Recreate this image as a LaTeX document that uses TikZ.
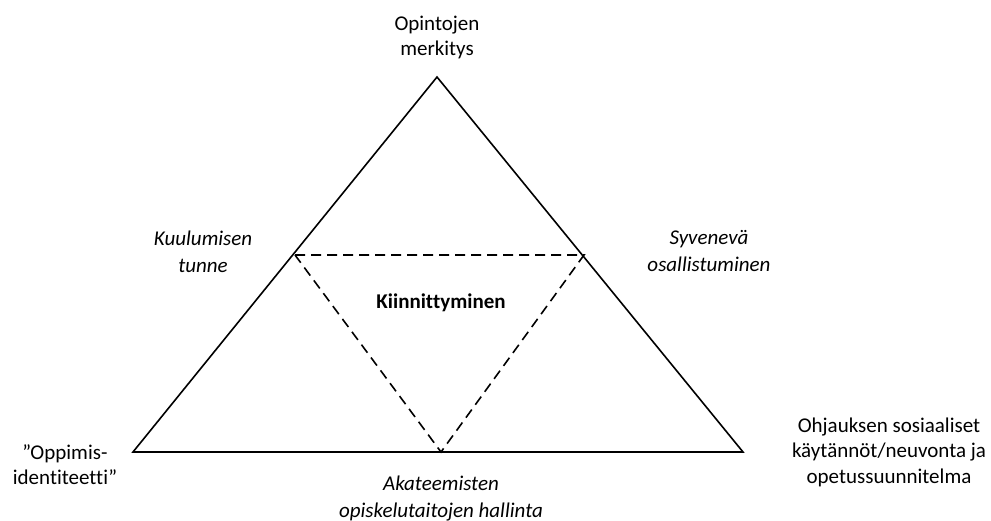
\documentclass[tikz,border=0pt]{standalone}
\usepackage{fontspec}
\setmainfont{Carlito}[Ligatures=NoCommon]
\begin{document}
\begin{tikzpicture}[x=1pt,y=1pt,
  lbl/.style={align=center,inner sep=0pt,font=\fontsize{21}{25}\selectfont},
  edge/.style={line width=1.6pt,line join=miter},
  dashedge/.style={line width=1.6pt,dash pattern=on 10pt off 6pt}]
\useasboundingbox (0,0) rectangle (991,521);
% outer triangle vertices (y = 521 - pixel y)
\coordinate (T) at (437,444);
\coordinate (L) at (133,69);
\coordinate (R) at (743,69);
% inner triangle
\coordinate (IL) at (295,266);
\coordinate (IR) at (584,266);
\coordinate (IB) at (441,69);
\draw[edge] (T) -- (L) -- (R) -- cycle;
\draw[dashedge] (IL) -- (IR) -- (IB) -- cycle;
\node[lbl] (top) at (437,483.5) {Opintojen\\merkitys};
\node[lbl,font=\fontsize{21}{27}\selectfont\itshape] (kuu) at (203,269.5) {Kuulumisen\\tunne};
\node[lbl,font=\fontsize{21}{27}\selectfont\itshape] (syv) at (709,269.5) {Syvenevä\\osallistuminen};
\node[lbl,font=\fontsize{21}{25}\selectfont\bfseries] (kii) at (441,218) {Kiinnittyminen};
\node[lbl] (opp) at (65,56) {”Oppimis-\\identiteetti”};
\node[lbl,font=\fontsize{21}{25.5}\selectfont] (ohj) at (889,69) {Ohjauksen sosiaaliset\\käytännöt/neuvonta ja\\opetussuunnitelma};
\node[lbl,font=\fontsize{21}{27}\selectfont\itshape] (aka) at (441,22.5) {Akateemisten\\opiskelutaitojen hallinta};
\end{tikzpicture}
\end{document}
